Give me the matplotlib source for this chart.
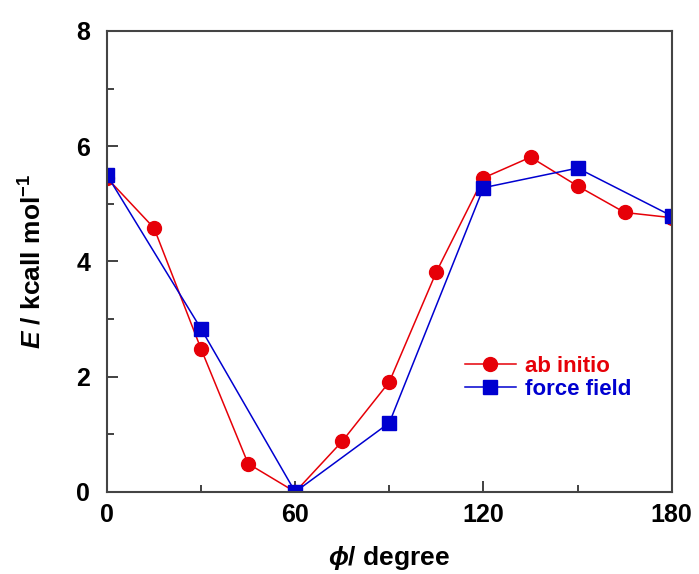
import matplotlib.pyplot as plt
from matplotlib.ticker import MultipleLocator

plt.rcParams['font.family'] = ['Liberation Sans', 'DejaVu Sans']
plt.rcParams['font.weight'] = 'bold'
plt.rcParams['mathtext.fontset'] = 'custom'
plt.rcParams['mathtext.it'] = 'Liberation Sans:italic:bold'
plt.rcParams['mathtext.rm'] = 'Liberation Sans:bold'

# data
ab_angle = [0, 15, 30, 45, 60, 75, 90, 105, 120, 135, 150, 165, 180]
ab_energy = [5.45, 4.58, 2.48, 0.49, 0.0, 0.88, 1.91, 3.82, 5.45, 5.81, 5.31, 4.85, 4.76]
ff_angle = [0, 30, 60, 90, 120, 150, 180]
ff_energy = [5.50, 2.83, 0.0, 1.20, 5.28, 5.62, 4.79]

red = '#e60008'
blue = '#0000d0'

fig = plt.figure(figsize=(6.99, 5.74), dpi=100)
ax = fig.add_axes([0.153, 0.143, 0.808, 0.803])

ax.plot(ab_angle, ab_energy, color=red, marker='o', markersize=10, linewidth=1.1,
        label='ab initio')
ax.plot(ff_angle, ff_energy, color=blue, marker='s', markersize=10, linewidth=1.1,
        label='force field')

ax.set_xlim(0, 180)
ax.set_ylim(0, 8)
ax.xaxis.set_major_locator(MultipleLocator(60))
ax.xaxis.set_minor_locator(MultipleLocator(30))
ax.yaxis.set_major_locator(MultipleLocator(2))
ax.yaxis.set_minor_locator(MultipleLocator(1))
ax.tick_params(which='both', direction='in', top=False, right=False, width=1.3,
               colors='#333333', labelcolor='black', labelsize=18)
ax.tick_params(axis='x', pad=8)
ax.tick_params(axis='y', pad=12)
ax.tick_params(which='major', length=8)
ax.tick_params(which='minor', length=5)
for sp in ax.spines.values():
    sp.set_linewidth(1.5)
    sp.set_color('#444444')
for lab in ax.get_xticklabels() + ax.get_yticklabels():
    lab.set_fontweight('bold')

ax.set_xlabel(r'$\phi$/ degree', fontsize=19, fontweight='bold', labelpad=12)
ax.set_ylabel(r'$E$ / kcall mol$^{\mathregular{-1}}$', fontsize=19, fontweight='bold',
              labelpad=22)

leg = ax.legend(loc='upper left', bbox_to_anchor=(0.618, 0.315), frameon=False,
                fontsize=16, handlelength=2.3, handletextpad=0.4, labelspacing=0.1,
                borderaxespad=0)
for txt, c in zip(leg.get_texts(), [red, blue]):
    txt.set_color(c)
    txt.set_fontweight('bold')

plt.savefig('out.png', dpi=100)
plt.close()
